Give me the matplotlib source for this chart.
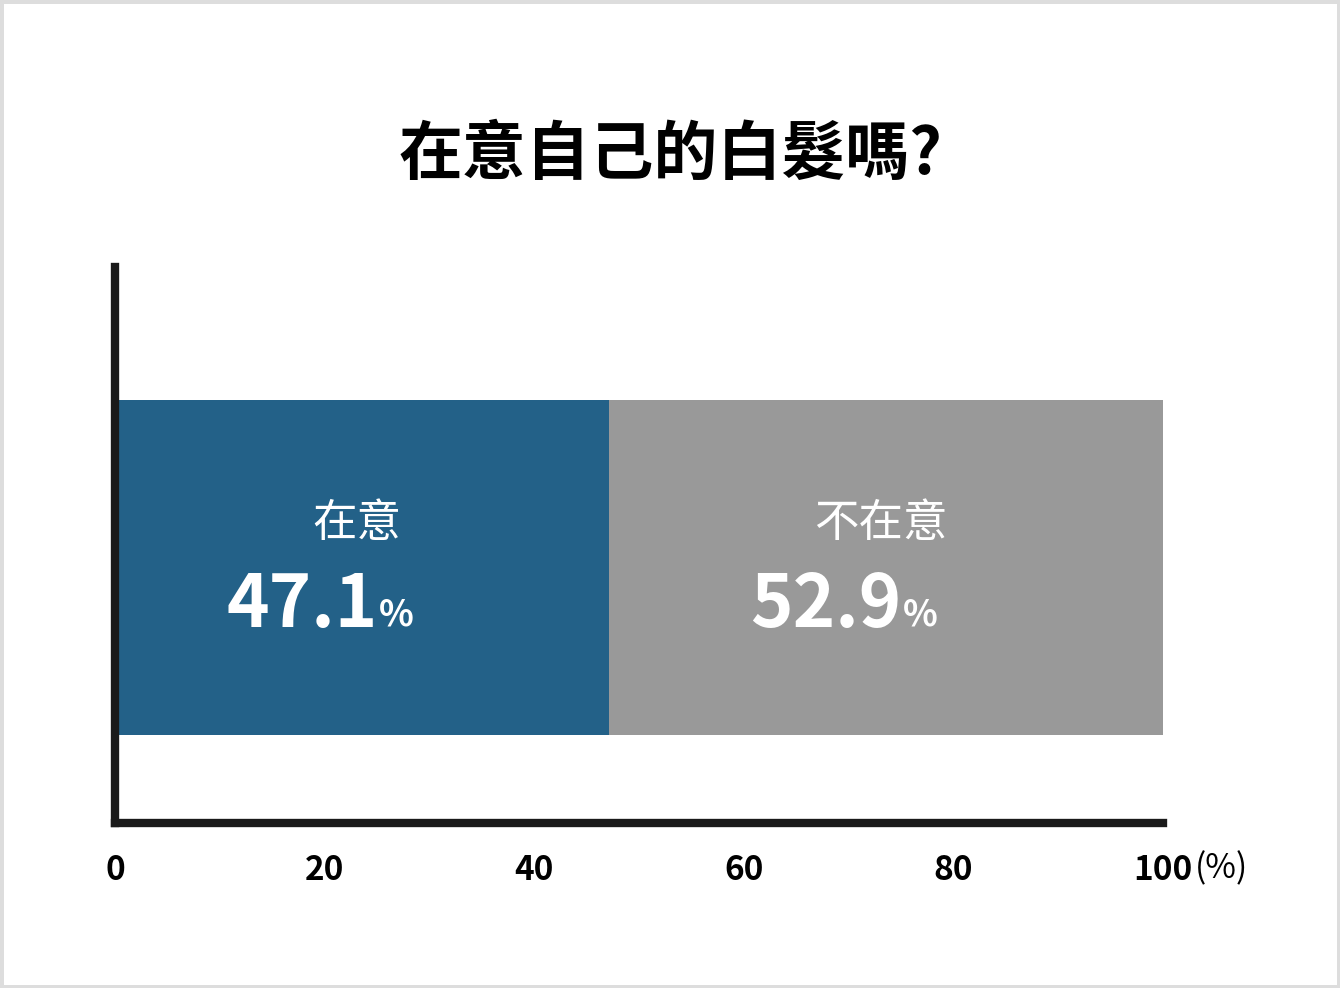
import matplotlib.pyplot as plt
from matplotlib.patches import Rectangle

plt.rcParams['font.family'] = ['Noto Sans CJK TC', 'DejaVu Sans']

title = "在意自己的白髮嗎?"
categories = ["在意", "不在意"]
values = [47.1, 52.9]
colors = ["#236188", "#999999"]
ticks = [0, 20, 40, 60, 80, 100]

fig = plt.figure(figsize=(13.4, 9.88), dpi=100)
fig.patches.append(Rectangle((0, 0), 1, 1, transform=fig.transFigure,
                             fill=False, edgecolor="#dddddd", linewidth=5))

ax = fig.add_axes([115 / 1340, 1 - 823 / 988, 1048 / 1340, 556 / 988])
left = 0
for cat, val, col in zip(categories, values, colors):
    ax.barh(0.4595, val, left=left, height=0.6025, color=col, edgecolor="none")
    cx = left + val / 2
    ax.text(cx - 0.5, 0.54, cat, ha="center", va="center", color="white", fontsize=32)
    ax.text(cx + 1.5, 0.39, f"{val:.1f}", ha="right", va="center",
            color="white", fontsize=52, fontweight="bold")
    ax.text(cx + 1.6, 0.375, "%", ha="left", va="center", color="white",
            fontsize=26, fontweight="bold")
    left += val

ax.set_xlim(0, 100)
ax.set_ylim(0, 1)
ax.set_xticks(ticks)
ax.set_xticklabels([str(t) for t in ticks], fontsize=24, fontweight="bold")
ax.tick_params(axis="x", length=0, pad=22)
ax.set_yticks([])
for s in ["top", "right"]:
    ax.spines[s].set_visible(False)
for s in ["left", "bottom"]:
    ax.spines[s].set_linewidth(6)
    ax.spines[s].set_color("#1a1a1a")
ax.text(103.0, -0.082, "(%)", ha="left", va="center", fontsize=24,
        transform=ax.transData, clip_on=False)

fig.text(0.5, 1 - 155 / 988, title, ha="center", va="center",
         fontsize=46, fontweight="bold")

fig.savefig("out.png", dpi=100)
